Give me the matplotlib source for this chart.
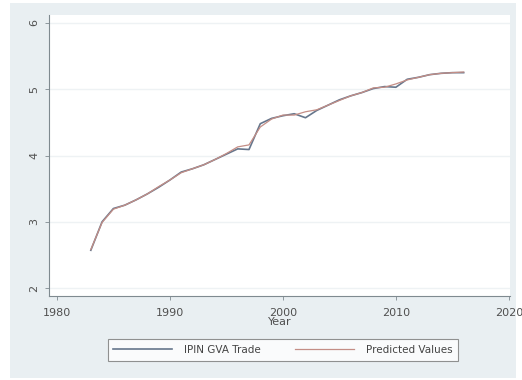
import matplotlib
matplotlib.use("Agg")
import matplotlib.pyplot as plt
from matplotlib.patches import Rectangle

# data
years = list(range(1983, 2017))
actual = [2.57, 3.00, 3.20, 3.25, 3.33, 3.42, 3.52, 3.63, 3.75, 3.80,
          3.86, 3.94, 4.02, 4.10, 4.09, 4.48, 4.56, 4.60, 4.63, 4.57,
          4.68, 4.76, 4.84, 4.90, 4.95, 5.01, 5.04, 5.03, 5.15, 5.18,
          5.22, 5.24, 5.25, 5.25]
predicted = [2.58, 2.99, 3.19, 3.25, 3.33, 3.42, 3.53, 3.63, 3.74, 3.80,
             3.86, 3.94, 4.03, 4.13, 4.16, 4.43, 4.55, 4.61, 4.61, 4.66,
             4.69, 4.76, 4.83, 4.90, 4.95, 5.02, 5.03, 5.08, 5.14, 5.18,
             5.22, 5.24, 5.25, 5.26]
yticks = [2, 3, 4, 5, 6]
xticks = [1980, 1990, 2000, 2010, 2020]

bg = '#e9eff2'
axis_col = '#7f8a90'
text_col = '#505050'

fig = plt.figure(figsize=(5.22, 3.80), dpi=100, facecolor='white')
fig.patches.append(Rectangle((10 / 522, 2 / 380), 506 / 522, 375 / 380,
                             transform=fig.transFigure, facecolor=bg,
                             edgecolor='none', zorder=-5))

ax = fig.add_axes([49 / 522, 84 / 380, 461 / 522, 281 / 380])
ax.set_facecolor('white')

ax.plot(years, actual, color='#66768c', lw=1.2, label='IPIN GVA Trade', zorder=3)
ax.plot(years, predicted, color='#c48e86', lw=0.9, label='Predicted Values', zorder=4)

ax.set_xlim(1979.3, 2020.1)
ax.set_ylim(1.88, 6.12)
ax.set_xticks(xticks)
ax.set_yticks(yticks)
ax.set_yticklabels([str(v) for v in yticks], rotation=90, va='center')
ax.tick_params(axis='both', labelsize=8, length=3, width=0.6,
               colors=axis_col, labelcolor=text_col)
ax.tick_params(axis='x', pad=6)
ax.tick_params(axis='y', pad=4)
ax.grid(axis='y', color='#eef2f4', lw=1.0)
ax.set_axisbelow(True)

for s in ['top', 'right']:
    ax.spines[s].set_visible(False)
for s in ['left', 'bottom']:
    ax.spines[s].set_color(axis_col)
    ax.spines[s].set_linewidth(0.8)

ax.set_xlabel('Year', fontsize=8, color=text_col, labelpad=-1)

leg = fig.legend(loc='center', bbox_to_anchor=(283 / 522, 1 - 350 / 380),
                 ncol=2, fontsize=7.5, frameon=True, fancybox=False,
                 handlelength=5.6, columnspacing=3.3, handletextpad=1.2,
                 borderpad=0.55)
leg.get_frame().set_edgecolor('#777777')
leg.get_frame().set_linewidth(0.8)
for t in leg.get_texts():
    t.set_color('#444444')

fig.savefig('out.png', dpi=100, facecolor='white')
